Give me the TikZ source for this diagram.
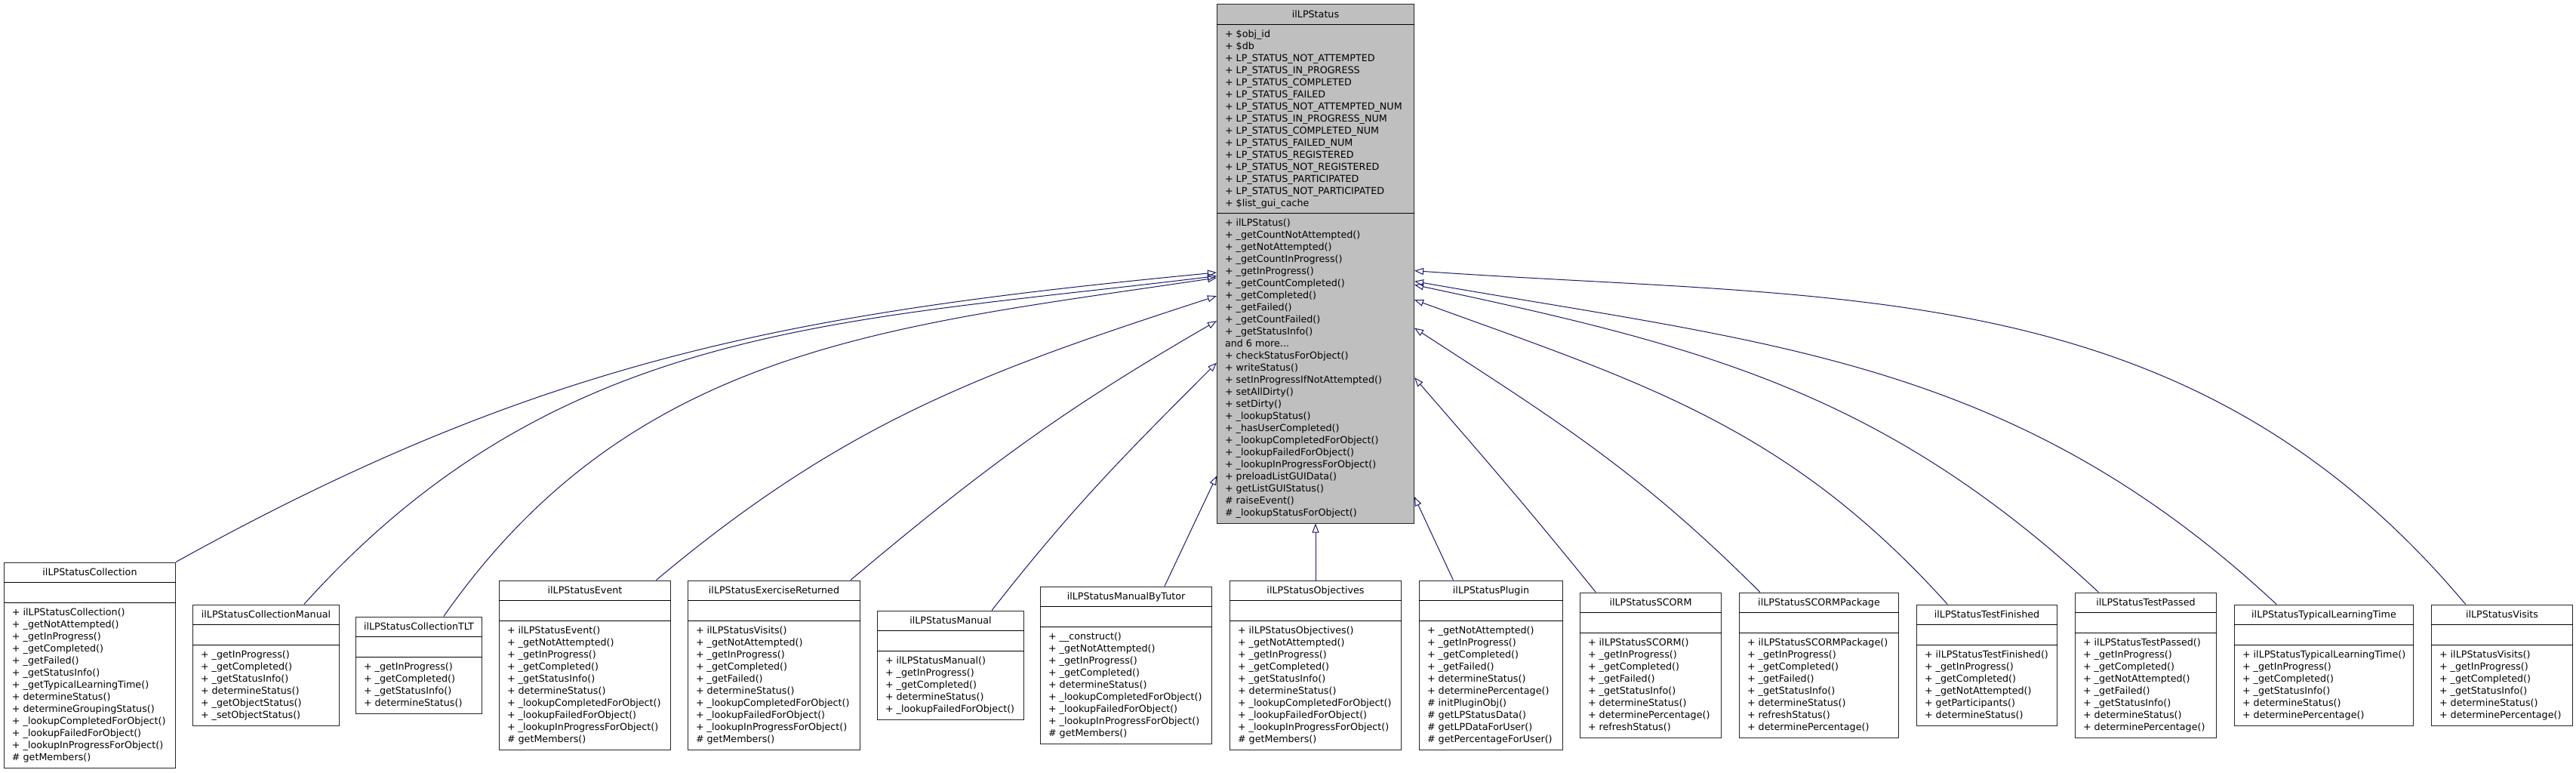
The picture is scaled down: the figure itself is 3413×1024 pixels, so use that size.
\documentclass[tikz,border=0pt]{standalone}
\usepackage{fontspec}
\setmainfont{DejaVu Sans}
\usetikzlibrary{arrows.meta,calc}

\definecolor{edgeblue}{HTML}{191970}

\tikzset{
  classbox/.style={rectangle, draw=black!85, line width=1pt, fill=white, inner sep=0pt},
  basebox/.style={classbox, fill=gray!50},
  sepline/.style={black, line width=1.4pt},
  titletext/.style={anchor=base, inner sep=0pt, font=\fontsize{12.7}{16}\selectfont},
  membertext/.style={anchor=base west, inner sep=0pt, font=\fontsize{12.7}{16}\selectfont},
  inherit/.style={draw=edgeblue, line width=1pt, -{Triangle[open, length=12pt, width=9pt]}},
}

%% #1 style, #2 name, #3 left/middle point, #4 width, #5 title,
%% #6 number of attributes, #7 attributes, #8 number of operations, #9 operations
\newcommand{\umlclass}[9]{%
  \pgfmathsetmacro{\attrH}{ifthenelse(#6>0,16*#6+10,27)}
  \pgfmathsetmacro{\methH}{16*#8+10}
  \pgfmathsetmacro{\boxH}{27+\attrH+\methH}
  \node[#1, minimum width=#4pt, minimum height=\boxH pt, anchor=west] (#2) at (#3) {};
  \node[titletext] at ($(#2.north)+(0,-18.3)$) {#5};
  \draw[sepline] ($(#2.north west)+(0,-27)$) -- ($(#2.north east)+(0,-27)$);
  \draw[sepline] ($(#2.north west)+(0,{-27-\attrH})$) -- ($(#2.north east)+(0,{-27-\attrH})$);
  \ifnum#6>0
    \foreach \txt [count=\k] in {#7}
      \node[membertext] at ($(#2.north west)+(10.8,{-27-16.8-16*(\k-1)})$) {\txt};
  \fi
  \foreach \txt [count=\k] in {#9}
    \node[membertext] at ($(#2.north west)+(10.8,{-27-\attrH-16.8-16*(\k-1)})$) {\txt};
}

\begin{document}
\begin{tikzpicture}[x=1pt, y=1pt]
  \useasboundingbox[fill=white] (0,0) rectangle (3413,-1024);

  %% Base class
  \umlclass{basebox}{status}{1612,-349.5}{261}{ilLPStatus}
    {15}{+ \$obj\_id, + \$db, + LP\_STATUS\_NOT\_ATTEMPTED, + LP\_STATUS\_IN\_PROGRESS,
     + LP\_STATUS\_COMPLETED, + LP\_STATUS\_FAILED, + LP\_STATUS\_NOT\_ATTEMPTED\_NUM,
     + LP\_STATUS\_IN\_PROGRESS\_NUM, + LP\_STATUS\_COMPLETED\_NUM, + LP\_STATUS\_FAILED\_NUM,
     + LP\_STATUS\_REGISTERED, + LP\_STATUS\_NOT\_REGISTERED, + LP\_STATUS\_PARTICIPATED,
     + LP\_STATUS\_NOT\_PARTICIPATED, + \$list\_gui\_cache}
    {25}{+ ilLPStatus(), + \_getCountNotAttempted(), + \_getNotAttempted(), + \_getCountInProgress(),
     + \_getInProgress(), + \_getCountCompleted(), + \_getCompleted(), + \_getFailed(),
     + \_getCountFailed(), + \_getStatusInfo(), and 6 more.\relax.\relax., + checkStatusForObject(),
     + writeStatus(), + setInProgressIfNotAttempted(), + setAllDirty(), + setDirty(),
     + \_lookupStatus(), + \_hasUserCompleted(), + \_lookupCompletedForObject(),
     + \_lookupFailedForObject(), + \_lookupInProgressForObject(), + preloadListGUIData(),
     + getListGUIStatus(), \# raiseEvent(), \# \_lookupStatusForObject()}

  %% Derived classes
  \umlclass{classbox}{coll}{5,-881}{227}{ilLPStatusCollection}{0}{}
    {13}{+ ilLPStatusCollection(), + \_getNotAttempted(), + \_getInProgress(), + \_getCompleted(),
     + \_getFailed(), + \_getStatusInfo(), + \_getTypicalLearningTime(), + determineStatus(),
     + determineGroupingStatus(), + \_lookupCompletedForObject(), + \_lookupFailedForObject(),
     + \_lookupInProgressForObject(), \# getMembers()}
  \umlclass{classbox}{collman}{255,-881}{194}{ilLPStatusCollectionManual}{0}{}
    {6}{+ \_getInProgress(), + \_getCompleted(), + \_getStatusInfo(), + determineStatus(),
     + \_getObjectStatus(), + \_setObjectStatus()}
  \umlclass{classbox}{colltlt}{471,-881}{167}{ilLPStatusCollectionTLT}{0}{}
    {4}{+ \_getInProgress(), + \_getCompleted(), + \_getStatusInfo(), + determineStatus()}
  \umlclass{classbox}{event}{661,-881}{227}{ilLPStatusEvent}{0}{}
    {10}{+ ilLPStatusEvent(), + \_getNotAttempted(), + \_getInProgress(), + \_getCompleted(),
     + \_getStatusInfo(), + determineStatus(), + \_lookupCompletedForObject(),
     + \_lookupFailedForObject(), + \_lookupInProgressForObject(), \# getMembers()}
  \umlclass{classbox}{exret}{911,-881}{228}{ilLPStatusExerciseReturned}{0}{}
    {10}{+ ilLPStatusVisits(), + \_getNotAttempted(), + \_getInProgress(), + \_getCompleted(),
     + \_getFailed(), + determineStatus(), + \_lookupCompletedForObject(),
     + \_lookupFailedForObject(), + \_lookupInProgressForObject(), \# getMembers()}
  \umlclass{classbox}{manual}{1162,-881}{194}{ilLPStatusManual}{0}{}
    {5}{+ ilLPStatusManual(), + \_getInProgress(), + \_getCompleted(), + determineStatus(),
     + \_lookupFailedForObject()}
  \umlclass{classbox}{mbtutor}{1378,-881}{227}{ilLPStatusManualByTutor}{0}{}
    {9}{+ \_\_construct(), + \_getNotAttempted(), + \_getInProgress(), + \_getCompleted(),
     + determineStatus(), + \_lookupCompletedForObject(), + \_lookupFailedForObject(),
     + \_lookupInProgressForObject(), \# getMembers()}
  \umlclass{classbox}{objectives}{1629,-881}{227}{ilLPStatusObjectives}{0}{}
    {10}{+ ilLPStatusObjectives(), + \_getNotAttempted(), + \_getInProgress(), + \_getCompleted(),
     + \_getStatusInfo(), + determineStatus(), + \_lookupCompletedForObject(),
     + \_lookupFailedForObject(), + \_lookupInProgressForObject(), \# getMembers()}
  \umlclass{classbox}{plugin}{1880,-881}{190}{ilLPStatusPlugin}{0}{}
    {10}{+ \_getNotAttempted(), + \_getInProgress(), + \_getCompleted(), + \_getFailed(),
     + determineStatus(), + determinePercentage(), \# initPluginObj(), \# getLPStatusData(),
     \# getLPDataForUser(), \# getPercentageForUser()}
  \umlclass{classbox}{scorm}{2093,-881}{187}{ilLPStatusSCORM}{0}{}
    {8}{+ ilLPStatusSCORM(), + \_getInProgress(), + \_getCompleted(), + \_getFailed(),
     + \_getStatusInfo(), + determineStatus(), + determinePercentage(), + refreshStatus()}
  \umlclass{classbox}{scormpkg}{2304,-881}{211}{ilLPStatusSCORMPackage}{0}{}
    {8}{+ ilLPStatusSCORMPackage(), + \_getInProgress(), + \_getCompleted(), + \_getFailed(),
     + \_getStatusInfo(), + determineStatus(), + refreshStatus(), + determinePercentage()}
  \umlclass{classbox}{testfin}{2539,-881}{186}{ilLPStatusTestFinished}{0}{}
    {6}{+ ilLPStatusTestFinished(), + \_getInProgress(), + \_getCompleted(),
     + \_getNotAttempted(), + getParticipants(), + determineStatus()}
  \umlclass{classbox}{testpass}{2749,-881}{187}{ilLPStatusTestPassed}{0}{}
    {8}{+ ilLPStatusTestPassed(), + \_getInProgress(), + \_getCompleted(), + \_getNotAttempted(),
     + \_getFailed(), + \_getStatusInfo(), + determineStatus(), + determinePercentage()}
  \umlclass{classbox}{typtime}{2960,-881}{237}{ilLPStatusTypicalLearningTime}{0}{}
    {6}{+ ilLPStatusTypicalLearningTime(), + \_getInProgress(), + \_getCompleted(),
     + \_getStatusInfo(), + determineStatus(), + determinePercentage()}
  \umlclass{classbox}{visits}{3221,-881}{187}{ilLPStatusVisits}{0}{}
    {6}{+ ilLPStatusVisits(), + \_getInProgress(), + \_getCompleted(), + \_getStatusInfo(),
     + determineStatus(), + determinePercentage()}

  %% Inheritance
  \draw[inherit] (coll.north east) .. controls +(29:561) and +(185.5:561) .. (status.185);
  \draw[inherit] (collman.58) .. controls +(48:503) and +(187:503) .. (status.187);
  \draw[inherit] (colltlt.63) .. controls +(55:438) and +(188.5:438) .. (status.188);
  \draw[inherit] (event.50) .. controls +(40:326) and +(198:326) .. (status.198);
  \draw[inherit] (exret.48) .. controls +(40:234) and +(210:234) .. (status.210);
  \draw[inherit] (manual.53) .. controls +(52:173) and +(225:173) .. (status.225);
  \draw[inherit] (mbtutor.64) -- (status.245);
  \draw[inherit] (objectives) -- (status);
  \draw[inherit] (plugin.114) -- (status.293);
  \draw[inherit] (scorm.127) .. controls +(129:146) and +(311:146) .. (status.311);
  \draw[inherit] (scormpkg.129) .. controls +(135:226) and +(327:226) .. (status.327);
  \draw[inherit] (testfin.123) .. controls +(132:319) and +(340:319) .. (status.340);
  \draw[inherit] (testpass.123) .. controls +(137:389) and +(348:389) .. (status.348);
  \draw[inherit] (typtime.128) .. controls +(137:477) and +(350:477) .. (status.350);
  \draw[inherit] (visits.121) .. controls +(130:573) and +(356:573) .. (status.356);
\end{tikzpicture}
\end{document}
